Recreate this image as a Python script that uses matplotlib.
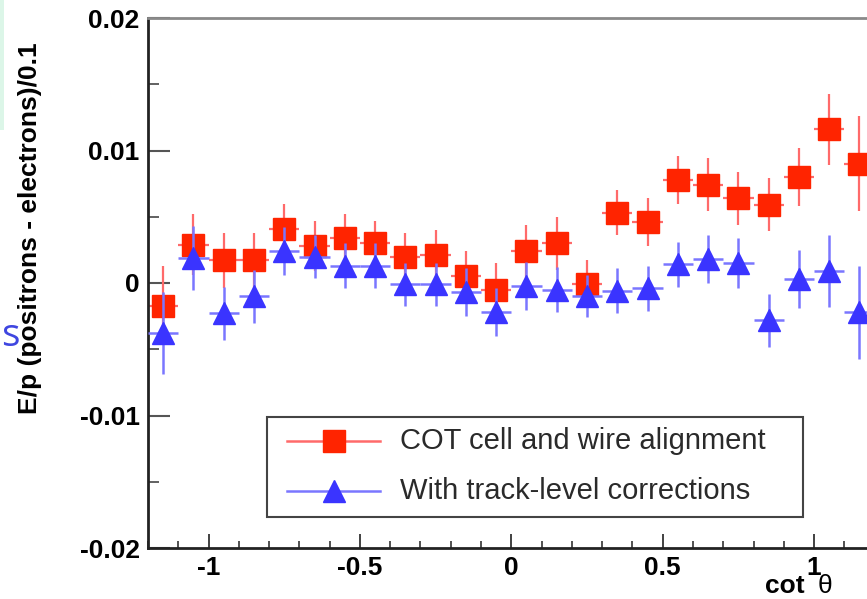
import numpy as np
import matplotlib
matplotlib.use("Agg")
import matplotlib.pyplot as plt
from matplotlib.patches import Rectangle
from matplotlib.ticker import FixedLocator, FixedFormatter, MultipleLocator

plt.rcParams['font.family'] = ['Liberation Sans', 'DejaVu Sans']

# cot(theta) bin centres (bin width 0.1)
cot_theta = [-1.15, -1.05, -0.95, -0.85, -0.75, -0.65, -0.55, -0.45,
             -0.35, -0.25, -0.15, -0.05, 0.05, 0.15, 0.25, 0.35,
             0.45, 0.55, 0.65, 0.75, 0.85, 0.95, 1.05, 1.15]
bin_half_width = 0.05

# E/p difference, COT cell and wire alignment
cot_align = [-0.0017, 0.0029, 0.0017, 0.0017, 0.0041, 0.0028, 0.0034, 0.0030,
             0.0020, 0.0021, 0.0005, -0.0005, 0.0024, 0.0030, -0.0001, 0.0053,
             0.0046, 0.0078, 0.0074, 0.0064, 0.0059, 0.0080, 0.0116, 0.0090]
cot_align_err = [0.0030, 0.0023, 0.0021, 0.0021, 0.0019, 0.0019, 0.0018, 0.0017,
                 0.0018, 0.0019, 0.0019, 0.0020, 0.0020, 0.0020, 0.0018, 0.0017,
                 0.0018, 0.0018, 0.0020, 0.0020, 0.0020, 0.0022, 0.0027, 0.0036]

# E/p difference, with track-level corrections
track_corr = [-0.0038, 0.0019, -0.0023, -0.0010, 0.0024, 0.0020, 0.0013, 0.0013,
              -0.0001, -0.0001, -0.0007, -0.0022, -0.0002, -0.0005, -0.0010, -0.0006,
              -0.0004, 0.0014, 0.0018, 0.0015, -0.0028, 0.0003, 0.0009, -0.0022]
track_corr_err = [0.0031, 0.0024, 0.0020, 0.0020, 0.0018, 0.0016, 0.0017, 0.0017,
                  0.0016, 0.0016, 0.0018, 0.0018, 0.0018, 0.0017, 0.0016, 0.0017,
                  0.0017, 0.0017, 0.0018, 0.0019, 0.0020, 0.0022, 0.0027, 0.0035]

series_labels = ["COT cell and wire alignment", "With track-level corrections"]
x_ticks = [-1, -0.5, 0, 0.5, 1]
x_tick_labels = ["-1", "-0.5", "0", "0.5", "1"]
y_ticks = [-0.02, -0.01, 0, 0.01, 0.02]
y_tick_labels = ["-0.02", "-0.01", "0", "0.01", "0.02"]

RED = '#ff2400'
RED_BAR = '#ff6a6a'
BLUE = '#3a34ff'
BLUE_BAR = '#7a76ff'

W, H = 867, 599
fig = plt.figure(figsize=(W / 100, H / 100), dpi=100)

# slide background fragments at the left edge
fig.patches.append(Rectangle((0, 1 - 130 / H), 4 / W, 130 / H, transform=fig.transFigure,
                             facecolor='#dcf6e8', edgecolor='none', zorder=0))
fig.text(1.0 / W, 1 - 346 / H, "s", color='#3f46e0', fontsize=28,
         ha='left', va='baseline', family=['Open Sans', 'DejaVu Sans'])

px0, px1 = 148, 874.6
ax = fig.add_axes([px0 / W, 1 - 548 / H, (px1 - px0) / W, 530 / H])
ax.set_xlim(-1.2, 1.2)
ax.set_ylim(-0.02, 0.02)

ax.errorbar(cot_theta, cot_align, yerr=cot_align_err, xerr=bin_half_width,
            fmt='none', ecolor=RED_BAR, elinewidth=1.6, capsize=0, zorder=2)
ax.plot(cot_theta, cot_align, ls='none', marker='s', ms=15.5,
        mfc=RED, mec=RED, zorder=3)
ax.errorbar(cot_theta, track_corr, yerr=track_corr_err, xerr=bin_half_width,
            fmt='none', ecolor=BLUE_BAR, elinewidth=1.8, capsize=0, zorder=4)
ax.plot(cot_theta, track_corr, ls='none', marker='^', ms=15.5,
        mfc=BLUE, mec=BLUE, zorder=5)

# axes frame and ticks
for side in ['left', 'bottom']:
    ax.spines[side].set_color('#222222')
    ax.spines[side].set_linewidth(2.0)
ax.spines['top'].set_color('#8a8a8a')
ax.spines['top'].set_linewidth(2.0)
ax.spines['right'].set_color('#8a8a8a')
ax.spines['right'].set_linewidth(2.0)

ax.xaxis.set_major_locator(FixedLocator(x_ticks))
ax.xaxis.set_major_formatter(FixedFormatter(x_tick_labels))
ax.xaxis.set_minor_locator(MultipleLocator(0.1))
ax.yaxis.set_major_locator(FixedLocator(y_ticks))
ax.yaxis.set_major_formatter(FixedFormatter(y_tick_labels))
ax.yaxis.set_minor_locator(MultipleLocator(0.005))

ax.tick_params(axis='x', which='major', direction='in', length=10, width=1.3,
               color='#333333', labelsize=19, pad=6, top=False)
ax.tick_params(axis='x', which='minor', direction='in', length=5, width=1.2,
               color='#333333', top=False)
ax.tick_params(axis='y', which='major', direction='in', length=16, width=1.5,
               color='#555555', labelsize=19, pad=6, right=False)
ax.tick_params(axis='y', which='minor', direction='in', length=8, width=1.3,
               color='#555555', right=False)
for lab in ax.get_xticklabels() + ax.get_yticklabels():
    lab.set_fontweight('bold')

# legend box
lx0, ly0, lx1, ly1 = 267, 517, 803, 417
def to_ax(px, py):
    return (px - px0) / (px1 - px0), (548 - py) / 530

bx, by = to_ax(lx0, ly0)
bx1, by1 = to_ax(lx1, ly1)
ax.add_patch(Rectangle((bx, by), bx1 - bx, by1 - by, transform=ax.transAxes,
                       facecolor='white', edgecolor='#444444', lw=1.5, zorder=10))
entries = [(series_labels[0], 's', RED, RED_BAR, 441),
           (series_labels[1], '^', BLUE, BLUE_BAR, 491)]
for label, mk, mc, lc, py in entries:
    hx0, hy = to_ax(287, py)
    hx1, _ = to_ax(380, py)
    hxm, _ = to_ax(333.5, py)
    ax.plot([hx0, hx1], [hy, hy], color=lc, lw=1.8, transform=ax.transAxes,
            zorder=11, clip_on=False)
    ax.plot([hxm], [hy], marker=mk, ms=15.5, mfc=mc, mec=mc, ls='none',
            transform=ax.transAxes, zorder=12, clip_on=False)
    tx, _ = to_ax(400, py)
    ax.text(tx, hy, label, transform=ax.transAxes, fontsize=21, color='#2a2a2a',
            ha='left', va='center', zorder=12)

# axis titles
fig.text(30 / W, 1 - 228 / H, "E/p (positrons - electrons)/0.1", rotation=90,
         fontsize=19, fontweight='bold', ha='center', va='center')
fig.text(765 / W, 1 - 593 / H, "cot", fontsize=19, fontweight='bold',
         ha='left', va='baseline')
fig.text(818 / W, 1 - 593 / H, "θ", fontsize=19, ha='left', va='baseline')

fig.savefig("out.png", dpi=100)
